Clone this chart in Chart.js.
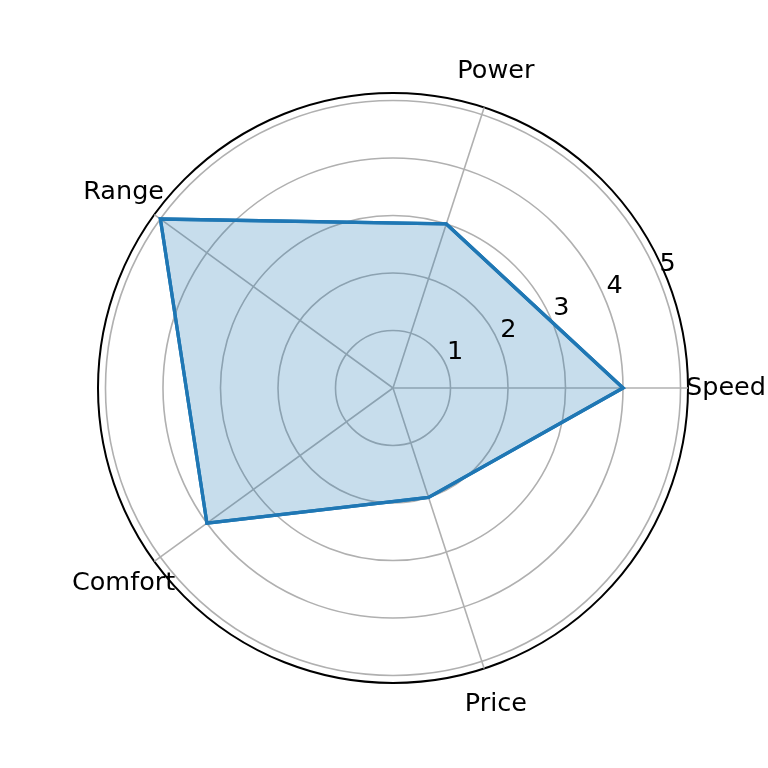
<!DOCTYPE html>
<html>
<head>
<meta charset="utf-8">
<script src="https://cdn.jsdelivr.net/npm/chart.js@4/dist/chart.umd.min.js"></script>
<style>
  html, body { margin: 0; padding: 0; background: #fff; }
  canvas { display: block; }
</style>
</head>
<body>
<canvas id="radar" width="768" height="768"></canvas>
<script>
// data, in the order matplotlib drew it (counter-clockwise from east)
const categories = ["Speed", "Power", "Range", "Comfort", "Price"];
const scores = [4, 3, 5, 4, 2];
const tickValues = [1, 2, 3, 4, 5];
const rMax = 5.13; // outer spine

// Chart.js goes clockwise, so keep Speed first and flip the rest
const order = [0, 4, 3, 2, 1];
const labels = order.map(i => categories[i]);
const data = order.map(i => scores[i]);

const FONT = "'DejaVu Sans', 'Liberation Sans', sans-serif";

// grid sits above the fill but under the outline (matplotlib zorder),
// so the scale goes on top and the outline is stroked again afterwards
const polarText = {
  id: "polarText",
  afterDraw(chart) {
    const scale = chart.scales.r;
    const ctx = chart.ctx;
    chart.getDatasetMeta(0).dataset.draw(ctx);

    ctx.save();
    ctx.fillStyle = "#000";
    ctx.font = "25.5px " + FONT;
    ctx.textAlign = "center";
    ctx.textBaseline = "middle";
    const a = 22.5 * Math.PI / 180;
    tickValues.forEach(v => {
      const d = scale.getDistanceFromCenterForValue(v);
      ctx.fillText(String(v), scale.xCenter + d * Math.cos(a) + 9, scale.yCenter - d * Math.sin(a) - 14);
    });
    labels.forEach((lab, i) => {
      const p = scale.getPointPosition(i, scale.drawingArea + 38);
      ctx.fillText(lab, p.x, p.y);
    });
    ctx.restore();
  }
};

new Chart(document.getElementById("radar").getContext("2d"), {
  type: "radar",
  data: {
    labels: labels,
    datasets: [{
      data: data,
      borderColor: "#1f77b4",
      backgroundColor: "rgba(31,119,180,0.25)",
      borderWidth: 3.3,
      fill: true,
      pointRadius: 0,
      pointHoverRadius: 0
    }]
  },
  options: {
    responsive: false,
    animation: false,
    layout: { padding: { left: 98, right: 80, top: 93, bottom: 85 } },
    plugins: { legend: { display: false }, tooltip: { enabled: false } },
    scales: {
      r: {
        min: 0,
        max: rMax,
        startAngle: 90,
        afterBuildTicks: (scale) => {
          scale.ticks = [0].concat(tickValues, [rMax]).map(v => ({ value: v }));
        },
        ticks: { display: false, z: 1 },
        pointLabels: { display: false },
        grid: {
          circular: true,
          color: (c) => (c.tick && c.tick.value === rMax ? "#000" : "#b0b0b0"),
          lineWidth: (c) => (c.tick && c.tick.value === rMax ? 2 : 1.6)
        },
        angleLines: { color: "#b0b0b0", lineWidth: 1.6 }
      }
    }
  },
  plugins: [polarText]
});
</script>
</body>
</html>
